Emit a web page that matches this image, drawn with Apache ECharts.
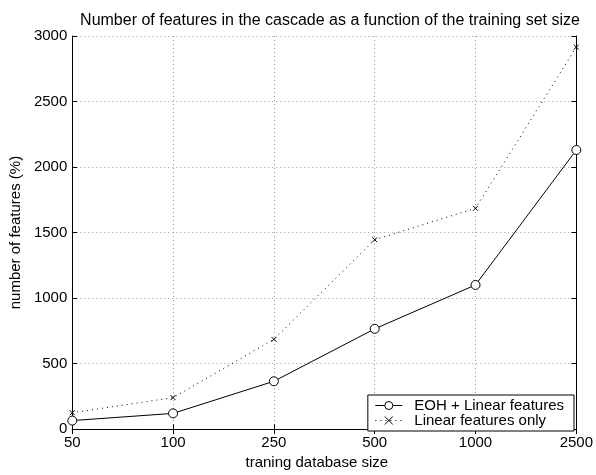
<!DOCTYPE html>
<html>
<head>
<meta charset="utf-8">
<script src="https://cdn.jsdelivr.net/npm/echarts@6/dist/echarts.min.js"></script>
<style>html,body{margin:0;padding:0;background:#fff}#c{width:596px;height:475px}</style>
</head>
<body>
<div id="c"></div>
<script>
var categories = ['50', '100', '250', '500', '1000', '2500'];
var eohLinear = [65, 120, 365, 765, 1100, 2130];
var linearOnly = [125, 240, 685, 1445, 1685, 2915];
var yTicks = [0, 500, 1000, 1500, 2000, 2500, 3000];

var FONT = 'Liberation Sans, Arial, Helvetica, sans-serif';
var chart = echarts.init(document.getElementById('c'), null, {renderer: 'canvas'});
var crossPath = 'path://M0,0L10,10M10,0L0,10';

chart.setOption({
  animation: false,
  backgroundColor: '#fff',
  title: {
    text: 'Number of features in the cascade as a function of the training set size',
    left: 325, top: 8, textAlign: 'center',
    textStyle: {fontFamily: FONT, fontSize: 16, fontWeight: 'normal', color: '#000'}
  },
  grid: {left: 69, right: 16, top: 36, bottom: 38, containLabel: false},
  legend: {
    orient: 'vertical', right: 22, bottom: 44,
    backgroundColor: '#fff', borderColor: '#000', borderWidth: 1,
    padding: [3, 10, 3, 7], itemGap: 0, itemWidth: 27, itemHeight: 10,
    textStyle: {fontFamily: FONT, fontSize: 15, color: '#000', padding: [0, 0, 0, 7]},
    lineStyle: {width: 1},
    itemStyle: {borderWidth: 1},
    data: ['EOH + Linear features', 'Linear features only']
  },
  xAxis: [{
    type: 'category', data: categories, boundaryGap: false, position: 'bottom',
    name: 'traning database size', nameLocation: 'middle', nameGap: 19,
    nameTextStyle: {fontFamily: FONT, fontSize: 15, color: '#000', padding: [0, 15, 0, 0]},
    axisLine: {lineStyle: {color: '#000', width: 1}},
    axisTick: {inside: true, length: 5, lineStyle: {color: '#000'}, alignWithLabel: true},
    axisLabel: {fontFamily: FONT, fontSize: 15, color: '#000', margin: 6},
    splitLine: {show: true, lineStyle: {color: '#999', type: [1, 3], width: 1}}
  }, {
    type: 'category', data: categories, boundaryGap: false, position: 'top',
    axisLine: {lineStyle: {color: '#000', width: 1}},
    axisTick: {inside: true, length: 5, lineStyle: {color: '#000'}},
    axisLabel: {show: false}, splitLine: {show: false}
  }],
  yAxis: [{
    type: 'value', min: 0, max: 3000, interval: 500, position: 'left',
    name: 'number of features (%)', nameLocation: 'middle', nameGap: 33,
    nameTextStyle: {fontFamily: FONT, fontSize: 15, color: '#000'},
    axisLine: {show: true, lineStyle: {color: '#000', width: 1}},
    axisTick: {show: true, inside: true, length: 5, lineStyle: {color: '#000'}},
    axisLabel: {fontFamily: FONT, fontSize: 15, color: '#000', margin: 5,
      formatter: function (v) { return yTicks.indexOf(v) >= 0 ? String(v) : ''; }},
    splitLine: {show: true, lineStyle: {color: '#999', type: [1, 3], width: 1}}
  }, {
    type: 'value', min: 0, max: 3000, interval: 500, position: 'right',
    axisLine: {show: true, lineStyle: {color: '#000', width: 1}},
    axisTick: {show: true, inside: true, length: 5, lineStyle: {color: '#000'}},
    axisLabel: {show: false}, splitLine: {show: false}
  }],
  series: [{
    name: 'EOH + Linear features', type: 'line', data: eohLinear,
    xAxisIndex: 0, yAxisIndex: 0,
    symbol: 'circle', symbolSize: 9,
    lineStyle: {color: '#000', width: 1},
    itemStyle: {color: '#fff', borderColor: '#000', borderWidth: 1},
    z: 3
  }, {
    name: 'Linear features only', type: 'line', data: linearOnly,
    xAxisIndex: 0, yAxisIndex: 0,
    symbol: crossPath, symbolSize: 5,
    lineStyle: {color: '#000', width: 1, type: [1, 4]},
    itemStyle: {color: 'rgba(0,0,0,0)', borderColor: '#000', borderWidth: 1},
    z: 2
  }]
});
</script>
</body>
</html>
